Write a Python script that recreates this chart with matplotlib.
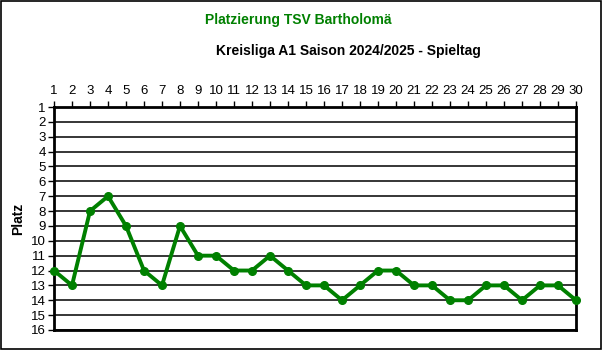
import matplotlib
matplotlib.use("Agg")
import matplotlib.pyplot as plt
from matplotlib.patches import Rectangle

# ---- data -------------------------------------------------------------------
SPIELTAG = list(range(1, 31))
PLATZ = [12, 13, 8, 7, 9, 12, 13, 9, 11, 11, 12, 12, 11, 12, 13,
         13, 14, 13, 12, 12, 13, 13, 14, 14, 13, 13, 14, 13, 13, 14]
Y_TICKS = list(range(1, 17))

TITLE = "Platzierung TSV Bartholomä"
SUBTITLE = "Kreisliga A1 Saison 2024/2025 - Spieltag"
GREEN = "#008000"

plt.rcParams["font.family"] = ["Liberation Sans", "DejaVu Sans"]

fig = plt.figure(figsize=(6.03, 3.5), dpi=100)
fig.patches.append(Rectangle((0.002, 0.003), 0.994, 0.993, transform=fig.transFigure,
                             fill=False, edgecolor="black", lw=1.2))
ax = fig.add_axes([54 / 603, 1 - 330 / 350, (576 - 54) / 603, (330 - 107) / 350])

ax.plot(SPIELTAG, PLATZ, color=GREEN, lw=2.8, marker="o", ms=5.5, zorder=4,
        clip_on=False)

ax.set_xlim(1, 30)
ax.set_ylim(16, 1)
ax.set_xticks(SPIELTAG)
ax.set_yticks(Y_TICKS)
ax.xaxis.tick_top()
ax.tick_params(axis="x", direction="out", length=4, width=1, pad=3, labelsize=9.5)
ax.tick_params(axis="y", direction="out", length=4, width=1, pad=2, labelsize=9.5)
ax.yaxis.grid(True, color="black", lw=1.1)
ax.set_axisbelow(True)
for s in ax.spines.values():
    s.set_linewidth(2)
ax.set_ylabel("Platz", fontsize=10, fontweight="bold", labelpad=4)

fig.text(298 / 603, 1 - 20 / 350, TITLE, color=GREEN, fontsize=10, fontweight="bold",
         ha="center", va="center")
fig.text(348 / 603, 1 - 51 / 350, SUBTITLE, color="black", fontsize=10, fontweight="bold",
         ha="center", va="center")

fig.savefig("out.png", dpi=100)
